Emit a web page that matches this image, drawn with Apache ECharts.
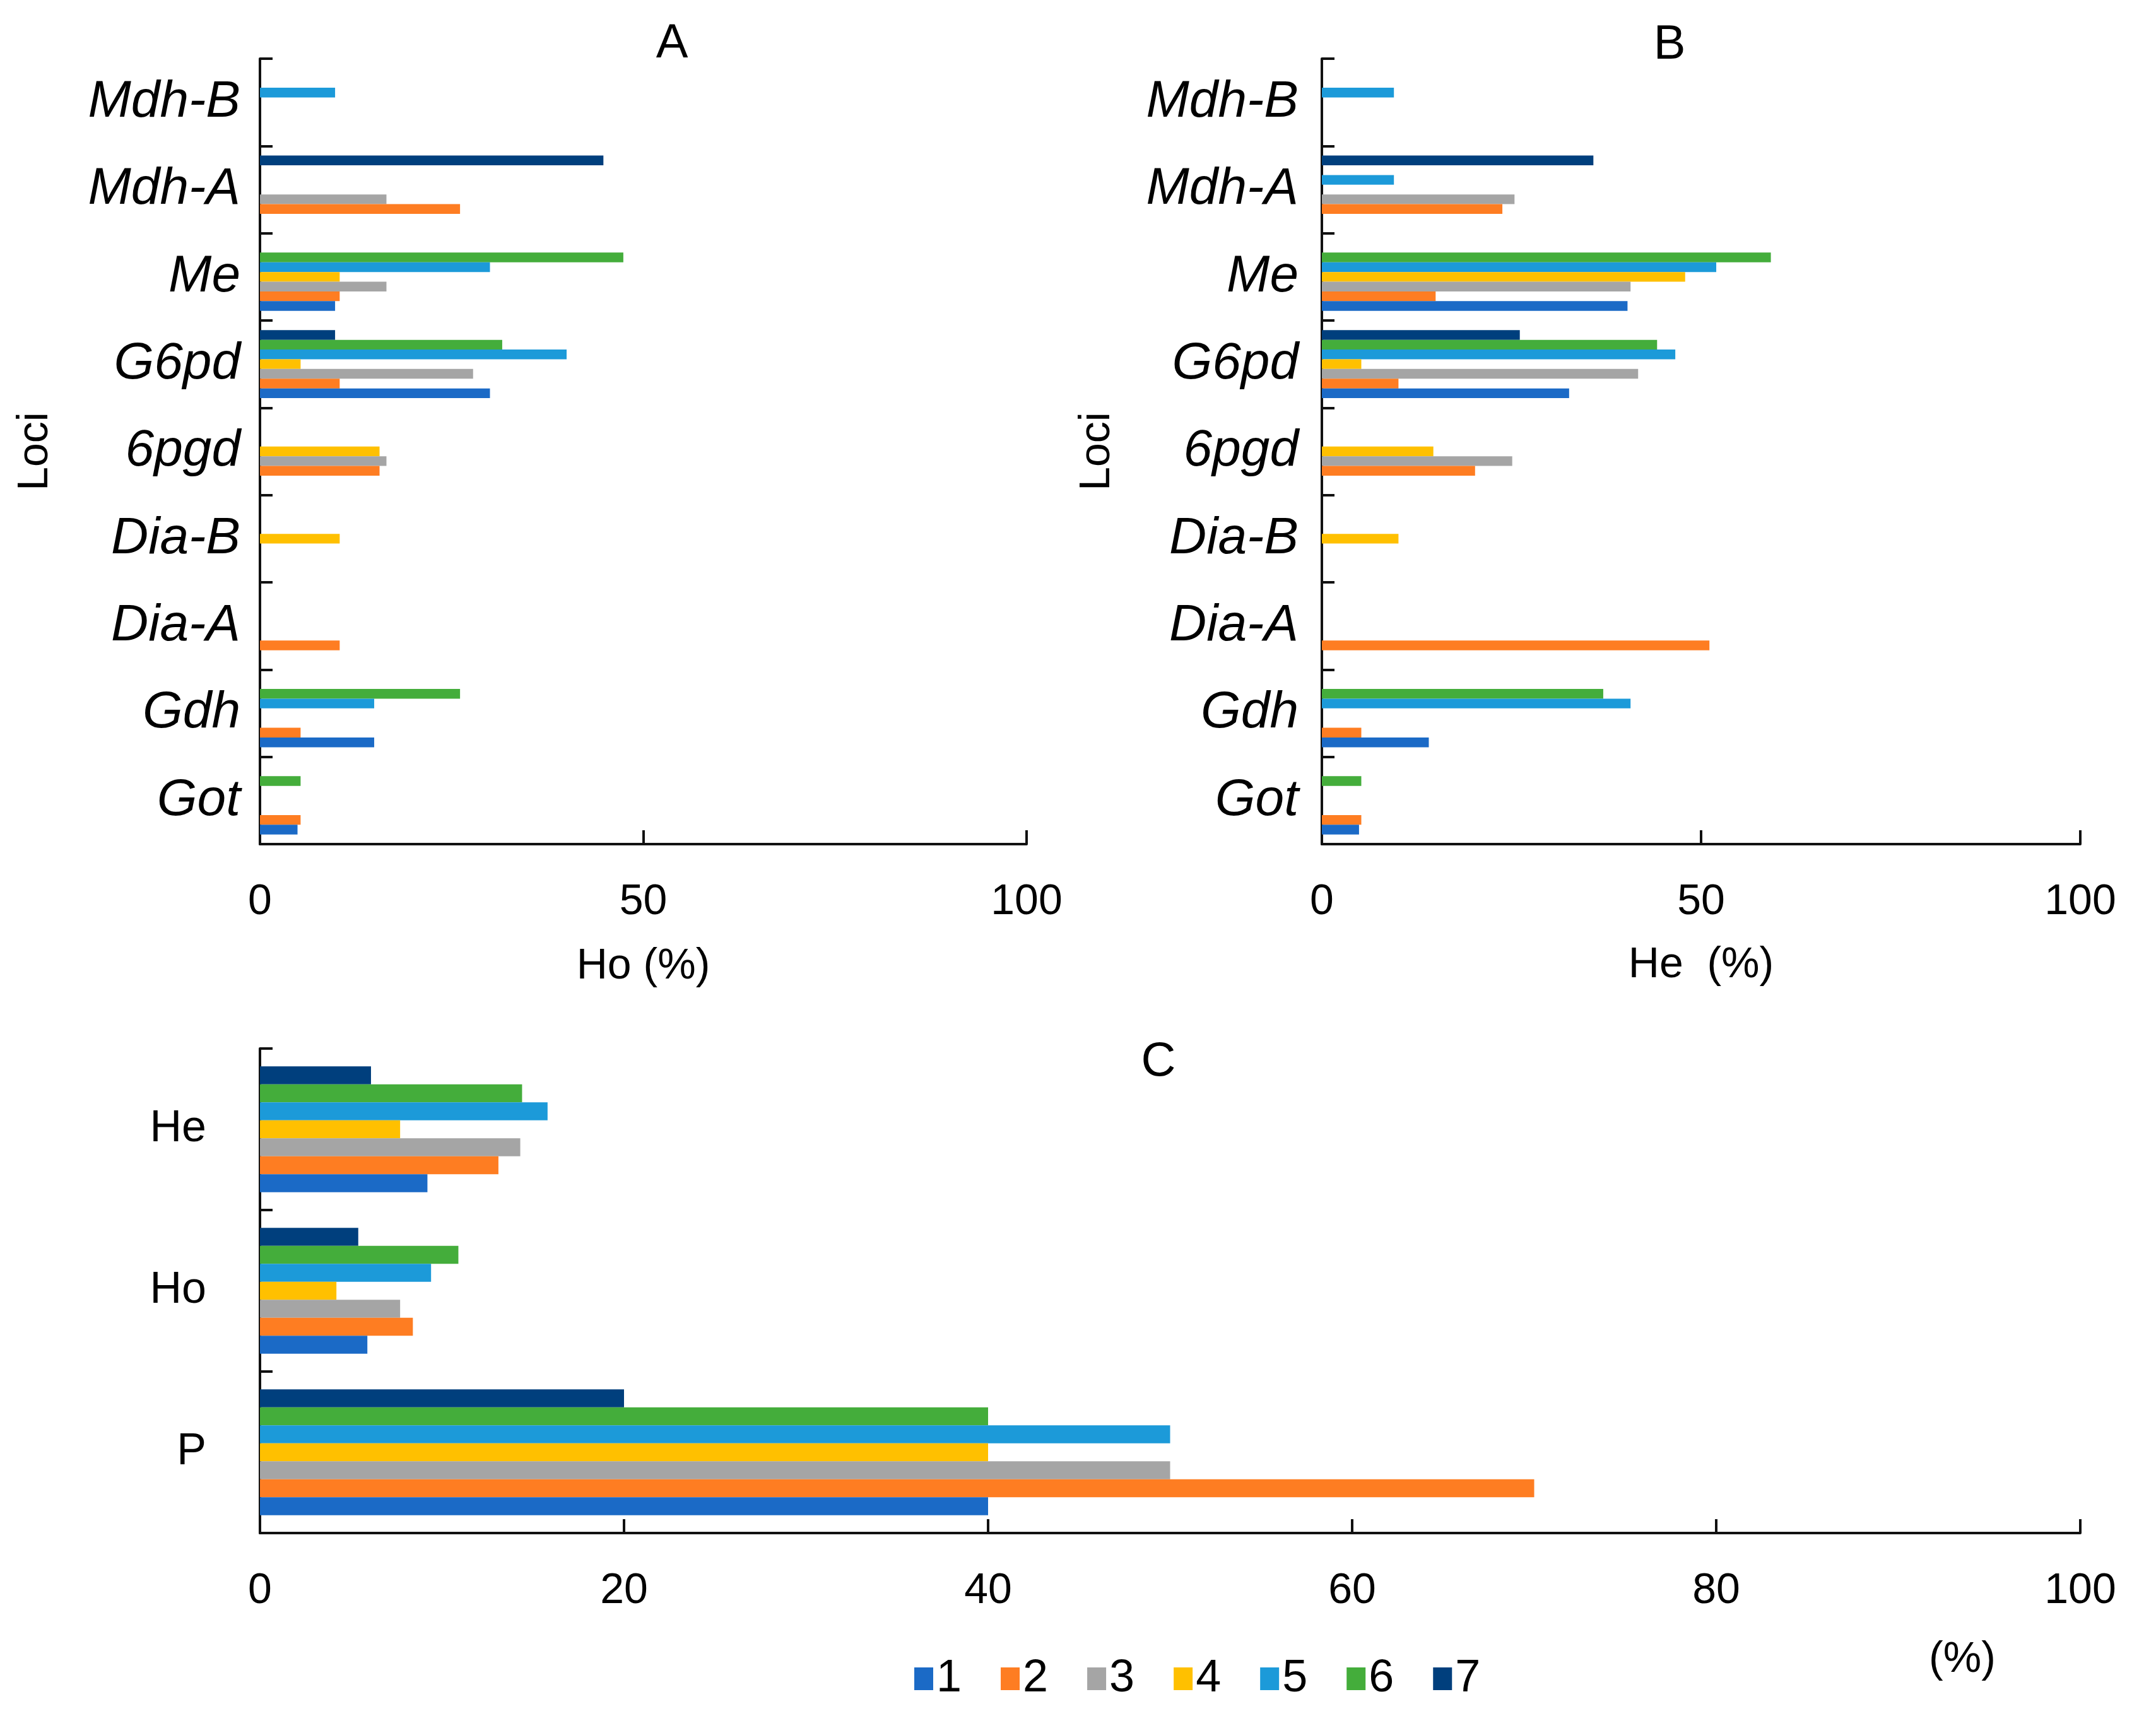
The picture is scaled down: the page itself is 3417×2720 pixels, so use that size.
<!DOCTYPE html>
<html>
<head>
<meta charset="utf-8">
<script src="https://cdn.jsdelivr.net/npm/echarts@6/dist/echarts.min.js"></script>
<style>html,body{margin:0;padding:0;background:#fff}#c{width:3417px;height:2720px}</style>
</head>
<body>
<div id="c"></div>
<script>
// Categories (bottom to top)
const lociCats = ['Got', 'Gdh', 'Dia-A', 'Dia-B', '6pgd', 'G6pd', 'Me', 'Mdh-A', 'Mdh-B'];
const summaryCats = ['P', 'Ho', 'He'];
const popNames = ['1', '2', '3', '4', '5', '6', '7'];
const popColors = ['#1B6AC6', '#FE7D22', '#A5A5A5', '#FFC000', '#1C9AD9', '#44AD3B', '#003F7D'];

// Panel A: Ho (%) per locus, one array per population
const ho1 = [4.9, 14.9, 0, 0, 0, 30.0, 9.8, 0, 0];
const ho2 = [5.3, 5.3, 10.4, 0, 15.6, 10.4, 10.4, 26.1, 0];
const ho3 = [0, 0, 0, 0, 16.5, 27.8, 16.5, 16.5, 0];
const ho4 = [0, 0, 0, 10.4, 15.6, 5.3, 10.4, 0, 0];
const ho5 = [0, 14.9, 0, 0, 0, 40.0, 30.0, 0, 9.8];
const ho6 = [5.3, 26.1, 0, 0, 0, 31.6, 47.4, 0, 0];
const ho7 = [0, 0, 0, 0, 0, 9.8, 0, 44.8, 0];

// Panel B: He (%) per locus
const he1 = [4.9, 14.1, 0, 0, 0, 32.6, 40.3, 0, 0];
const he2 = [5.2, 5.2, 51.1, 0, 20.2, 10.1, 15.0, 23.8, 0];
const he3 = [0, 0, 0, 0, 25.1, 41.7, 40.7, 25.4, 0];
const he4 = [0, 0, 0, 10.1, 14.7, 5.2, 47.9, 0, 0];
const he5 = [0, 40.7, 0, 0, 0, 46.6, 52.0, 9.5, 9.5];
const he6 = [5.2, 37.1, 0, 0, 0, 44.2, 59.2, 0, 0];
const he7 = [0, 0, 0, 0, 0, 26.1, 0, 35.8, 0];

// Panel C: P, Ho, He (%) per population
const sum1 = [40, 5.9, 9.2];
const sum2 = [70, 8.4, 13.1];
const sum3 = [50, 7.7, 14.3];
const sum4 = [40, 4.2, 7.7];
const sum5 = [50, 9.4, 15.8];
const sum6 = [40, 10.9, 14.4];
const sum7 = [20, 5.4, 6.1];

const hoSets = [ho1, ho2, ho3, ho4, ho5, ho6, ho7];
const heSets = [he1, he2, he3, he4, he5, he6, he7];
const sumSets = [sum1, sum2, sum3, sum4, sum5, sum6, sum7];

const FONT = 'Liberation Sans';
const axisLine = { show: true, lineStyle: { color: '#111', width: 4 } };
const axisTick = { show: true, inside: true, length: 22, lineStyle: { color: '#111', width: 4 } };

function xAxisDef(gridIndex, interval, name, margin, nameGap) {
  return {
    type: 'value', gridIndex, min: 0, max: 100, interval,
    axisLine, axisTick, splitLine: { show: false },
    axisLabel: { fontFamily: FONT, fontSize: 68, color: '#000', margin },
    name, nameLocation: 'middle', nameGap,
    nameTextStyle: { fontFamily: FONT, fontSize: 68, color: '#000' }
  };
}
function yAxisDef(gridIndex, cats, italic, fontSize, margin, withName, padTop) {
  const a = {
    type: 'category', gridIndex, data: cats,
    axisLine, axisTick: Object.assign({}, axisTick, { length: 20 }),
    axisLabel: { fontFamily: FONT, fontSize, color: '#000', margin, padding: [padTop, 0, 0, 0], fontStyle: italic ? 'italic' : 'normal' },
    splitLine: { show: false }
  };
  if (withName) {
    a.name = 'Loci';
    a.nameLocation = 'middle';
    a.nameRotate = 90;
    a.nameGap = 322;
    a.nameTextStyle = { fontFamily: FONT, fontSize: 68, color: '#000' };
  }
  return a;
}

const series = [];
function addSeries(sets, axisIndex) {
  for (let i = 6; i >= 0; i--) {
    series.push({
      type: 'bar', name: popNames[i], data: sets[i],
      xAxisIndex: axisIndex, yAxisIndex: axisIndex,
      barGap: '0%', barCategoryGap: '22%',
      itemStyle: { color: popColors[i] }
    });
  }
}
addSeries(hoSets, 0);
addSeries(heSets, 1);
addSeries(sumSets, 2);

const option = {
  backgroundColor: '#fff',
  animation: false,
  color: popColors,
  grid: [
    { left: 412, top: 93, width: 1215, height: 1245 },
    { left: 2095, top: 93, width: 1202, height: 1245 },
    { left: 412, top: 1662, width: 2885, height: 768 }
  ],
  xAxis: [
    xAxisDef(0, 50, 'Ho (%)', 58, 160),
    xAxisDef(1, 50, 'He  (%)', 58, 158),
    xAxisDef(2, 20, '', 58, 0)
  ],
  yAxis: [
    yAxisDef(0, lociCats, true, 82, 31, true, 16),
    yAxisDef(1, lociCats, true, 82, 37, true, 16),
    yAxisDef(2, summaryCats, false, 70, 85, false, 4)
  ],
  legend: {
    data: popNames,
    left: 1444, top: 2620,
    icon: 'rect', itemWidth: 30, itemHeight: 36, itemGap: 62,
    textStyle: { fontFamily: FONT, fontSize: 72, color: '#000' }
  },
  graphic: [
    { type: 'text', x: 1065, y: 70, style: { text: 'A', font: '76px "Liberation Sans"', fill: '#000', align: 'center', verticalAlign: 'middle' } },
    { type: 'text', x: 2646, y: 72, style: { text: 'B', font: '76px "Liberation Sans"', fill: '#000', align: 'center', verticalAlign: 'middle' } },
    { type: 'text', x: 1836, y: 1684, style: { text: 'C', font: '76px "Liberation Sans"', fill: '#000', align: 'center', verticalAlign: 'middle' } },
    { type: 'text', x: 3110, y: 2631, style: { text: '(%)', font: '68px "Liberation Sans"', fill: '#000', align: 'center', verticalAlign: 'middle' } }
  ],
  series
};

const chart = echarts.init(document.getElementById('c'), null, { renderer: 'canvas' });
chart.setOption(option);
</script>
</body>
</html>
